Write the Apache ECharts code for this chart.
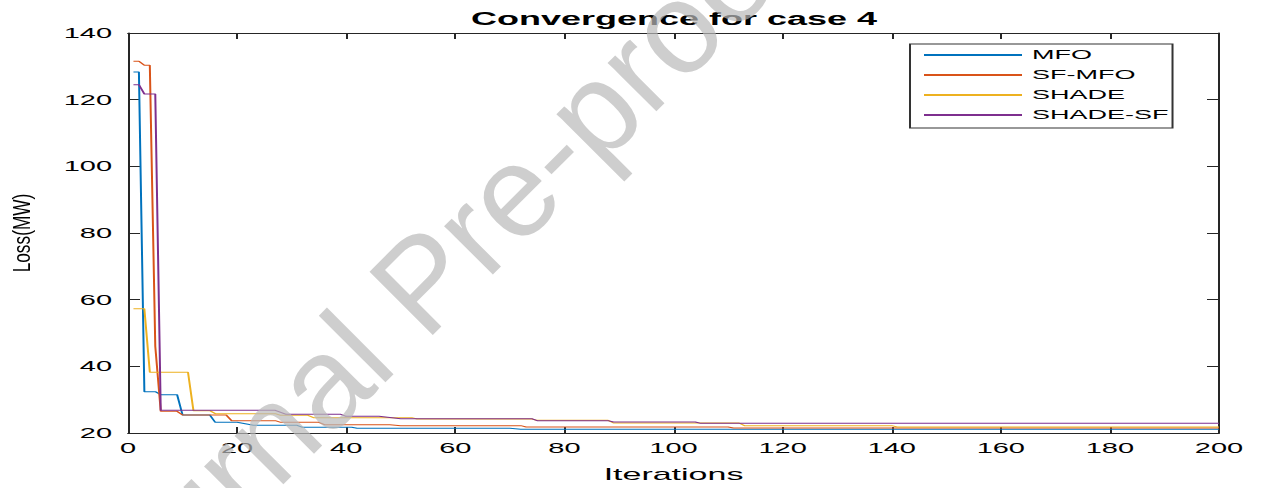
<!DOCTYPE html>
<html><head><meta charset="utf-8">
<script src="https://cdn.jsdelivr.net/npm/echarts@6/dist/echarts.min.js"></script>
<style>
html,body{margin:0;padding:0;background:#fff;overflow:hidden;width:1264px;height:488px;}
#chart{position:absolute;left:0;top:0;width:632px;height:488px;transform:scaleX(2);transform-origin:0 0;}
#mark{position:absolute;left:0;top:0;width:1264px;height:488px;pointer-events:none;}
</style></head><body>
<div id="chart"></div><div id="mark"></div>
<script>
// ---- data (iteration, loss) at the points where each curve changes ----
const seriesNames = ['MFO', 'SF-MFO', 'SHADE', 'SHADE-SF'];
const mfo = [[1,128.3],[2,128.3],[3,32.4],[5,32.4],[6,31.5],[9,31.5],[10,25.4],[15,25.4],[16,23.2],[20,23.2],[23,22.3],[31,22.3],[32,21.7],[41,21.7],[42,21.4],[70,21.4],[72,21.1],[200,21.1]];
const sfMfo = [[1,131.5],[2,131.5],[3,130.3],[4,130.3],[5,46],[6,26.5],[9,26.5],[10,25.4],[18,25.4],[19,23.7],[27,23.7],[28,23.2],[35,23.2],[36,22.5],[48,22.5],[50,22.2],[72,22.2],[73,21.8],[110,21.8],[111,21.5],[200,21.5]];
const shade = [[1,57.3],[2,57.3],[3,57.3],[4,38.2],[11,38.2],[12,26.7],[15,26.7],[16,25.8],[27,25.8],[28,25.3],[33,25.3],[34,24.6],[52,24.6],[53,24.2],[74,24.2],[75,23.8],[88,23.8],[89,23.0],[112,23.0],[113,22.2],[140,22.2],[141,21.8],[200,21.8]];
const shadeSf = [[1,124.5],[2,124.5],[3,121.7],[5,121.7],[6,26.8],[27,26.8],[29,25.6],[39,25.6],[40,25.0],[46,25.0],[50,24.3],[74,24.3],[75,23.7],[88,23.7],[89,23.3],[104,23.3],[105,22.9],[200,22.9]];
const xTicks = [0,20,40,60,80,100,120,140,160,180,200];
const yTicks = [20,40,60,80,100,120,140];
const colors = ['#0072BD','#D95319','#EDB120','#7E2F8E'];
const titleText = 'Convergence for case 4';
const xName = 'Iterations';
const yName = 'Loss(MW)';
const watermarkText = 'Journal Pre-proof';

const FONT = '"Liberation Sans", Arial, Helvetica, sans-serif';
const AX = '#262626';
const xMin = xTicks[0], xMax = xTicks[xTicks.length-1], xInt = xTicks[1]-xTicks[0];
const yMin = yTicks[0], yMax = yTicks[yTicks.length-1], yInt = yTicks[1]-yTicks[0];

function xAxisDef(pos, showLabel, name) {
  return {
    type:'value', position:pos, min:xMin, max:xMax, interval:xInt,
    axisLine:{show:true, onZero:false, lineStyle:{color:AX, width:1}},
    axisTick:{show:true, inside:true, length:6, lineStyle:{color:AX, width:1}},
    axisLabel:{show:showLabel, margin:7, fontSize:14.5, color:'#000', fontFamily:FONT},
    splitLine:{show:false},
    name: name || '', nameLocation:'middle', nameGap:33,
    nameTextStyle:{fontSize:17, color:'#000', fontFamily:FONT}
  };
}
function yAxisDef(pos, showLabel) {
  return {
    type:'value', position:pos, min:yMin, max:yMax, interval:yInt,
    axisLine:{show:true, onZero:false, lineStyle:{color:AX, width:1}},
    axisTick:{show:true, inside:true, length:6, lineStyle:{color:AX, width:1}},
    axisLabel:{show:showLabel, margin:8, fontSize:14.5, color:'#000', fontFamily:FONT},
    splitLine:{show:false}
  };
}

const dataSets = [mfo, sfMfo, shade, shadeSf];
const chart = echarts.init(document.getElementById('chart'), null, {renderer:'svg'});
chart.setOption({
  animation:false,
  backgroundColor:'#fff',
  title:{text:titleText, left:337, top:10, padding:0, textAlign:'center',
    textStyle:{fontSize:18, fontWeight:'bold', color:'#000', fontFamily:FONT}},
  grid:{left:64, right:22.5, top:33, bottom:54, containLabel:false},
  legend:{
    data:seriesNames, orient:'vertical', left:455, top:44,
    itemWidth:49, itemHeight:14, itemGap:6, padding:[4,2,6,6],
    borderColor:'#333', borderWidth:1, backgroundColor:'#fff',
    itemStyle:{opacity:0},
    textStyle:{fontSize:13.5, color:'#000', fontFamily:FONT}
  },
  xAxis:[xAxisDef('bottom', true, xName), xAxisDef('top', false)],
  yAxis:[yAxisDef('left', true), yAxisDef('right', false)],
  series: seriesNames.map((n,i)=>({
    name:n, type:'line', data:dataSets[i], xAxisIndex:0, yAxisIndex:0,
    showSymbol:false, symbol:'none', color:colors[i],
    lineStyle:{width:1, color:colors[i]}
  }))
});

// unstretched overlay: y-axis title and the journal watermark
const mark = echarts.init(document.getElementById('mark'), null, {renderer:'canvas'});
mark.setOption({
  backgroundColor:'transparent',
  graphic:[
    {type:'text', x:23.5, y:233, rotation:Math.PI/2, scaleX:1, scaleY:1.4, silent:true,
      style:{text:yName, fontSize:17.3, fontFamily:FONT, fill:'#000', align:'center', verticalAlign:'middle'}},
    {type:'text', x:428, y:289, rotation:45*Math.PI/180, silent:true,
      style:{text:watermarkText, fontSize:130, fontFamily:FONT,
        fill:'rgba(185,185,185,0.7)', align:'center', verticalAlign:'middle'}}
  ]
});
</script>
</body></html>
